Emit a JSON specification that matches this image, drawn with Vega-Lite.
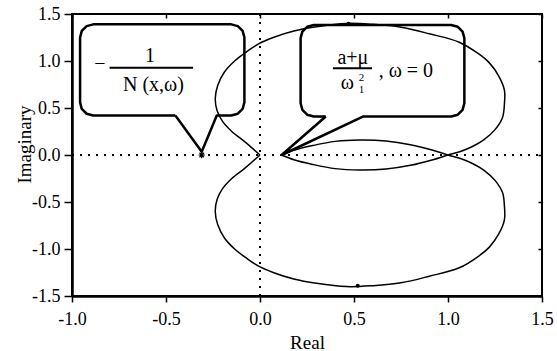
{
  "$schema": "https://vega.github.io/schema/vega-lite/v6.json",
  "width": 470,
  "height": 282,
  "autosize": {"type": "none"},
  "padding": {"left": 72, "top": 14, "right": 15, "bottom": 55},
  "background": "white",
  "config": {
    "view": {"stroke": "black", "strokeWidth": 2},
    "axis": {
      "labelFont": "Liberation Serif", "titleFont": "Liberation Serif",
      "labelColor": "black", "titleColor": "black", "domainColor": "black", "tickColor": "black",
      "grid": false, "labelFontSize": 18, "titleFontSize": 19, "titleFontWeight": "normal",
      "domainWidth": 2.5, "tickWidth": 1.5
    }
  },
  "resolve": {"axis": {"x": "independent", "y": "independent"}},
  "datasets": {
    "zero": [
      {"x": 0, "y": -1.5, "x2": 0, "y2": 1.5},
      {"x": -1, "y": 0, "x2": 1.5, "y2": 0}
    ],
    "curve": [
      {"s": "a", "i": 0, "x": 0, "y": 0},
      {"s": "a", "i": 1, "x": -0.08, "y": 0.14},
      {"s": "a", "i": 2, "x": -0.15, "y": 0.25},
      {"s": "a", "i": 3, "x": -0.2, "y": 0.36},
      {"s": "a", "i": 4, "x": -0.228, "y": 0.47},
      {"s": "a", "i": 5, "x": -0.238, "y": 0.6},
      {"s": "a", "i": 6, "x": -0.225, "y": 0.74},
      {"s": "a", "i": 7, "x": -0.19, "y": 0.88},
      {"s": "a", "i": 8, "x": -0.135, "y": 1.0},
      {"s": "a", "i": 9, "x": -0.07, "y": 1.1},
      {"s": "a", "i": 10, "x": -0.01, "y": 1.18},
      {"s": "a", "i": 11, "x": 0.07, "y": 1.25},
      {"s": "a", "i": 12, "x": 0.18, "y": 1.32},
      {"s": "a", "i": 13, "x": 0.3, "y": 1.365},
      {"s": "a", "i": 14, "x": 0.46, "y": 1.4},
      {"s": "a", "i": 15, "x": 0.6, "y": 1.39},
      {"s": "a", "i": 16, "x": 0.75, "y": 1.36},
      {"s": "a", "i": 17, "x": 0.9, "y": 1.29},
      {"s": "a", "i": 18, "x": 1.06, "y": 1.2},
      {"s": "a", "i": 19, "x": 1.16, "y": 1.08},
      {"s": "a", "i": 20, "x": 1.22, "y": 0.98},
      {"s": "a", "i": 21, "x": 1.27, "y": 0.84},
      {"s": "a", "i": 22, "x": 1.3, "y": 0.69},
      {"s": "a", "i": 23, "x": 1.3, "y": 0.54},
      {"s": "a", "i": 24, "x": 1.29, "y": 0.4},
      {"s": "a", "i": 25, "x": 1.25, "y": 0.27},
      {"s": "a", "i": 26, "x": 1.19, "y": 0.16},
      {"s": "a", "i": 27, "x": 1.13, "y": 0.09},
      {"s": "a", "i": 28, "x": 1.07, "y": 0.04},
      {"s": "a", "i": 29, "x": 1.0, "y": 0.0},
      {"s": "a", "i": 30, "x": 0.92, "y": -0.05},
      {"s": "a", "i": 31, "x": 0.8, "y": -0.11},
      {"s": "a", "i": 32, "x": 0.67, "y": -0.15},
      {"s": "a", "i": 33, "x": 0.53, "y": -0.16},
      {"s": "a", "i": 34, "x": 0.4, "y": -0.145},
      {"s": "a", "i": 35, "x": 0.28, "y": -0.1},
      {"s": "a", "i": 36, "x": 0.18, "y": -0.05},
      {"s": "a", "i": 37, "x": 0.115, "y": 0.0},
      {"s": "b", "i": 0, "x": 0.115, "y": 0.0},
      {"s": "b", "i": 1, "x": 0.18, "y": 0.05},
      {"s": "b", "i": 2, "x": 0.28, "y": 0.1},
      {"s": "b", "i": 3, "x": 0.4, "y": 0.145},
      {"s": "b", "i": 4, "x": 0.53, "y": 0.16},
      {"s": "b", "i": 5, "x": 0.67, "y": 0.15},
      {"s": "b", "i": 6, "x": 0.8, "y": 0.11},
      {"s": "b", "i": 7, "x": 0.92, "y": 0.05},
      {"s": "b", "i": 8, "x": 1.0, "y": 0.0},
      {"s": "b", "i": 9, "x": 1.07, "y": -0.04},
      {"s": "b", "i": 10, "x": 1.13, "y": -0.09},
      {"s": "b", "i": 11, "x": 1.19, "y": -0.16},
      {"s": "b", "i": 12, "x": 1.25, "y": -0.27},
      {"s": "b", "i": 13, "x": 1.29, "y": -0.4},
      {"s": "b", "i": 14, "x": 1.3, "y": -0.54},
      {"s": "b", "i": 15, "x": 1.3, "y": -0.69},
      {"s": "b", "i": 16, "x": 1.27, "y": -0.84},
      {"s": "b", "i": 17, "x": 1.22, "y": -0.98},
      {"s": "b", "i": 18, "x": 1.16, "y": -1.08},
      {"s": "b", "i": 19, "x": 1.06, "y": -1.2},
      {"s": "b", "i": 20, "x": 0.9, "y": -1.29},
      {"s": "b", "i": 21, "x": 0.75, "y": -1.36},
      {"s": "b", "i": 22, "x": 0.6, "y": -1.39},
      {"s": "b", "i": 23, "x": 0.46, "y": -1.4},
      {"s": "b", "i": 24, "x": 0.3, "y": -1.365},
      {"s": "b", "i": 25, "x": 0.18, "y": -1.32},
      {"s": "b", "i": 26, "x": 0.07, "y": -1.25},
      {"s": "b", "i": 27, "x": -0.01, "y": -1.18},
      {"s": "b", "i": 28, "x": -0.07, "y": -1.1},
      {"s": "b", "i": 29, "x": -0.135, "y": -1.0},
      {"s": "b", "i": 30, "x": -0.19, "y": -0.88},
      {"s": "b", "i": 31, "x": -0.225, "y": -0.74},
      {"s": "b", "i": 32, "x": -0.238, "y": -0.6},
      {"s": "b", "i": 33, "x": -0.228, "y": -0.47},
      {"s": "b", "i": 34, "x": -0.2, "y": -0.36},
      {"s": "b", "i": 35, "x": -0.15, "y": -0.25},
      {"s": "b", "i": 36, "x": -0.08, "y": -0.14},
      {"s": "b", "i": 37, "x": 0, "y": 0}
    ],
    "bubbles": [
      {"b": "L", "i": 0, "x": -0.45, "y": 0.42},
      {"b": "L", "i": 1, "x": -0.31, "y": 0.035},
      {"b": "L", "i": 2, "x": -0.23, "y": 0.42},
      {"b": "L", "i": 3, "x": -0.153, "y": 0.42},
      {"b": "L", "i": 4, "x": -0.118, "y": 0.439},
      {"b": "L", "i": 5, "x": -0.0924, "y": 0.49},
      {"b": "L", "i": 6, "x": -0.083, "y": 0.56},
      {"b": "L", "i": 7, "x": -0.083, "y": 1.25},
      {"b": "L", "i": 8, "x": -0.0924, "y": 1.32},
      {"b": "L", "i": 9, "x": -0.118, "y": 1.371},
      {"b": "L", "i": 10, "x": -0.153, "y": 1.39},
      {"b": "L", "i": 11, "x": -0.887, "y": 1.39},
      {"b": "L", "i": 12, "x": -0.922, "y": 1.371},
      {"b": "L", "i": 13, "x": -0.948, "y": 1.32},
      {"b": "L", "i": 14, "x": -0.957, "y": 1.25},
      {"b": "L", "i": 15, "x": -0.957, "y": 0.56},
      {"b": "L", "i": 16, "x": -0.948, "y": 0.49},
      {"b": "L", "i": 17, "x": -0.922, "y": 0.439},
      {"b": "L", "i": 18, "x": -0.887, "y": 0.42},
      {"b": "L", "i": 19, "x": -0.45, "y": 0.42},
      {"b": "R", "i": 0, "x": 0.35, "y": 0.41},
      {"b": "R", "i": 1, "x": 0.115, "y": 0.0},
      {"b": "R", "i": 2, "x": 0.55, "y": 0.41},
      {"b": "R", "i": 3, "x": 1.017, "y": 0.41},
      {"b": "R", "i": 4, "x": 1.052, "y": 0.429},
      {"b": "R", "i": 5, "x": 1.0776, "y": 0.48},
      {"b": "R", "i": 6, "x": 1.087, "y": 0.55},
      {"b": "R", "i": 7, "x": 1.087, "y": 1.243},
      {"b": "R", "i": 8, "x": 1.0776, "y": 1.313},
      {"b": "R", "i": 9, "x": 1.052, "y": 1.364},
      {"b": "R", "i": 10, "x": 1.017, "y": 1.383},
      {"b": "R", "i": 11, "x": 0.286, "y": 1.383},
      {"b": "R", "i": 12, "x": 0.251, "y": 1.364},
      {"b": "R", "i": 13, "x": 0.2254, "y": 1.313},
      {"b": "R", "i": 14, "x": 0.216, "y": 1.243},
      {"b": "R", "i": 15, "x": 0.216, "y": 0.55},
      {"b": "R", "i": 16, "x": 0.2254, "y": 0.48},
      {"b": "R", "i": 17, "x": 0.251, "y": 0.429},
      {"b": "R", "i": 18, "x": 0.286, "y": 0.41},
      {"b": "R", "i": 19, "x": 0.35, "y": 0.41}
    ],
    "bars": [
      {"x": -0.8, "x2": -0.356, "y": 0.929},
      {"x": 0.388, "x2": 0.596, "y": 0.922}
    ],
    "texts": [
      {"t": "1", "x": -0.585, "y": 0.993},
      {"t": "N (x,ω)", "x": -0.567, "y": 0.684},
      {"t": "−", "x": -0.851, "y": 0.904},
      {"t": "a+μ", "x": 0.494, "y": 0.968},
      {"t": "ω", "x": 0.465, "y": 0.7},
      {"t": ", ω = 0", "x": 0.776, "y": 0.833}
    ],
    "small": [
      {"t": "2", "x": 0.54, "y": 0.785},
      {"t": "1", "x": 0.54, "y": 0.656}
    ],
    "star": [{"x": -0.31, "y": 0.0}],
    "dots": [{"x": 0.47, "y": 1.395}, {"x": 0.52, "y": -1.39}]
  },
  "layer": [
    {
      "data": {"name": "zero"},
      "mark": {"type": "rule", "color": "black", "strokeWidth": 2, "strokeDash": [2, 6]},
      "encoding": {
        "x": {"field": "x", "type": "quantitative", "scale": {"domain": [-1, 1.5], "nice": false, "zero": false},
          "axis": {"orient": "bottom", "values": [-1, -0.5, 0, 0.5, 1, 1.5], "format": ".1f", "labelExpr": "replace(datum.label, '\u2212', '-')", "title": "Real", "tickSize": 6, "labelPadding": 8, "labelFlush": false, "titlePadding": 5}},
        "x2": {"field": "x2"},
        "y": {"field": "y", "type": "quantitative", "scale": {"domain": [-1.5, 1.5], "nice": false, "zero": false},
          "axis": {"orient": "left", "values": [-1.5, -1, -0.5, 0, 0.5, 1, 1.5], "format": ".1f", "labelExpr": "replace(datum.label, '\u2212', '-')", "title": "Imaginary", "tickSize": 8, "labelPadding": 4, "labelFlush": false, "titleX": -48, "titleY": 130, "titleAngle": -90, "titleAlign": "center", "titleBaseline": "middle"}},
        "y2": {"field": "y2"}
      }
    },
    {
      "data": {"name": "curve"},
      "mark": {"type": "line", "color": "black", "strokeWidth": 1.5, "interpolate": "catmull-rom"},
      "encoding": {
        "x": {"field": "x", "type": "quantitative", "scale": {"domain": [-1, 1.5], "nice": false, "zero": false},
          "axis": {"orient": "top", "values": [-1, -0.5, 0, 0.5, 1, 1.5], "labels": false, "domain": false, "tickSize": -4, "title": null}},
        "y": {"field": "y", "type": "quantitative", "scale": {"domain": [-1.5, 1.5], "nice": false, "zero": false},
          "axis": {"orient": "right", "values": [-1.5, -1, -0.5, 0, 0.5, 1, 1.5], "labels": false, "domain": false, "tickSize": -4, "title": null}},
        "order": {"field": "i", "type": "quantitative"},
        "detail": {"field": "s"}
      }
    },
    {
      "data": {"name": "bubbles"},
      "mark": {"type": "line", "color": "black", "strokeWidth": 2.5, "strokeJoin": "round"},
      "encoding": {
        "x": {"field": "x", "type": "quantitative", "scale": {"domain": [-1, 1.5], "nice": false, "zero": false}, "axis": null},
        "y": {"field": "y", "type": "quantitative", "scale": {"domain": [-1.5, 1.5], "nice": false, "zero": false}, "axis": null},
        "order": {"field": "i", "type": "quantitative"},
        "detail": {"field": "b"}
      }
    },
    {
      "data": {"name": "bars"},
      "mark": {"type": "rule", "color": "black", "strokeWidth": 2},
      "encoding": {
        "x": {"field": "x", "type": "quantitative", "scale": {"domain": [-1, 1.5], "nice": false, "zero": false}, "axis": null},
        "x2": {"field": "x2"},
        "y": {"field": "y", "type": "quantitative", "scale": {"domain": [-1.5, 1.5], "nice": false, "zero": false}, "axis": null}
      }
    },
    {
      "data": {"name": "texts"},
      "mark": {"type": "text", "font": "Liberation Serif", "fontSize": 20, "color": "black", "align": "center", "baseline": "alphabetic"},
      "encoding": {
        "x": {"field": "x", "type": "quantitative", "scale": {"domain": [-1, 1.5], "nice": false, "zero": false}, "axis": null},
        "y": {"field": "y", "type": "quantitative", "scale": {"domain": [-1.5, 1.5], "nice": false, "zero": false}, "axis": null},
        "text": {"field": "t"}
      }
    },
    {
      "data": {"name": "small"},
      "mark": {"type": "text", "font": "Liberation Serif", "fontSize": 11, "color": "black", "align": "center", "baseline": "alphabetic"},
      "encoding": {
        "x": {"field": "x", "type": "quantitative", "scale": {"domain": [-1, 1.5], "nice": false, "zero": false}, "axis": null},
        "y": {"field": "y", "type": "quantitative", "scale": {"domain": [-1.5, 1.5], "nice": false, "zero": false}, "axis": null},
        "text": {"field": "t"}
      }
    },
    {
      "data": {"name": "star"},
      "mark": {"type": "point", "shape": "M-1,0L1,0M0,-1L0,1M-0.7,-0.7L0.7,0.7M-0.7,0.7L0.7,-0.7", "size": 40, "filled": false, "color": "black", "strokeWidth": 1.2, "opacity": 1},
      "encoding": {
        "x": {"field": "x", "type": "quantitative", "scale": {"domain": [-1, 1.5], "nice": false, "zero": false}, "axis": null},
        "y": {"field": "y", "type": "quantitative", "scale": {"domain": [-1.5, 1.5], "nice": false, "zero": false}, "axis": null}
      }
    },
    {
      "data": {"name": "dots"},
      "mark": {"type": "point", "filled": true, "size": 16, "color": "black", "opacity": 1},
      "encoding": {
        "x": {"field": "x", "type": "quantitative", "scale": {"domain": [-1, 1.5], "nice": false, "zero": false}, "axis": null},
        "y": {"field": "y", "type": "quantitative", "scale": {"domain": [-1.5, 1.5], "nice": false, "zero": false}, "axis": null}
      }
    }
  ]
}
